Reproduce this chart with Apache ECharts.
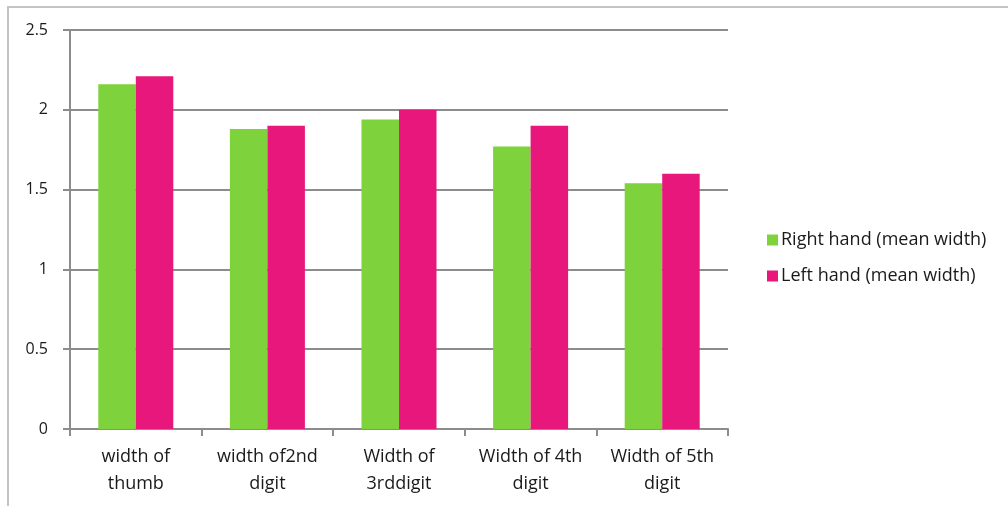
<!DOCTYPE html>
<html>
<head>
<meta charset="utf-8">
<script src="https://cdn.jsdelivr.net/npm/echarts@6/dist/echarts.min.js"></script>
<style>
  html, body { margin: 0; padding: 0; background: #fff; }
  #chart { width: 1008px; height: 506px; }
</style>
</head>
<body>
<div id="chart"></div>
<script>
// Finger widths, right vs left hand
const categories = ['width of\nthumb', 'width of2nd\ndigit', 'Width of\n3rddigit', 'Width of 4th\ndigit', 'Width of 5th\ndigit'];
const rightHand = [2.16, 1.88, 1.94, 1.77, 1.54];
const leftHand = [2.21, 1.90, 2.00, 1.90, 1.60];
const seriesNames = ['Right hand (mean width)', 'Left hand (mean width)'];

const FONT = '"Open Sans", Lato, sans-serif';
const chart = echarts.init(document.getElementById('chart'), null, { renderer: 'canvas' });

chart.setOption({
  animation: false,
  backgroundColor: '#ffffff',
  color: ['#7ed23c', '#e8177b'],
  graphic: [{
    type: 'rect',
    shape: { x: 8, y: 7, width: 1010, height: 520 },
    style: { fill: 'none', stroke: '#c4c4c4', lineWidth: 2 },
    silent: true
  }],
  grid: { left: 70, right: 280, top: 30, bottom: 77, containLabel: false },
  legend: {
    orient: 'vertical',
    left: 762,
    top: 226,
    itemWidth: 11,
    itemHeight: 11,
    itemGap: 18,
    icon: 'rect',
    textStyle: { fontFamily: FONT, fontSize: 18, color: '#1a1a1a', padding: [0, 0, 0, -2] },
    data: seriesNames
  },
  xAxis: {
    type: 'category',
    data: categories,
    axisLine: { lineStyle: { color: '#8c8c8c', width: 2 } },
    axisTick: { show: true, length: 7, lineStyle: { color: '#8c8c8c', width: 2 } },
    axisLabel: {
      fontFamily: FONT, fontSize: 18, color: '#1a1a1a',
      lineHeight: 27, margin: 14, interval: 0
    }
  },
  yAxis: {
    type: 'value',
    min: 0,
    max: 2.5,
    interval: 0.5,
    axisLine: { show: true, lineStyle: { color: '#8c8c8c', width: 2 } },
    axisTick: { show: true, length: 7, lineStyle: { color: '#8c8c8c', width: 2 } },
    splitLine: { lineStyle: { color: '#8c8c8c', width: 2 } },
    axisLabel: {
      fontFamily: FONT, fontSize: 16, color: '#1a1a1a', margin: 22,
      formatter: v => String(v)
    }
  },
  series: [
    {
      name: seriesNames[0], type: 'bar', data: rightHand,
      barGap: '0%', barCategoryGap: '43%'
    },
    {
      name: seriesNames[1], type: 'bar', data: leftHand,
      barGap: '0%', barCategoryGap: '43%'
    }
  ]
});
</script>
</body>
</html>
